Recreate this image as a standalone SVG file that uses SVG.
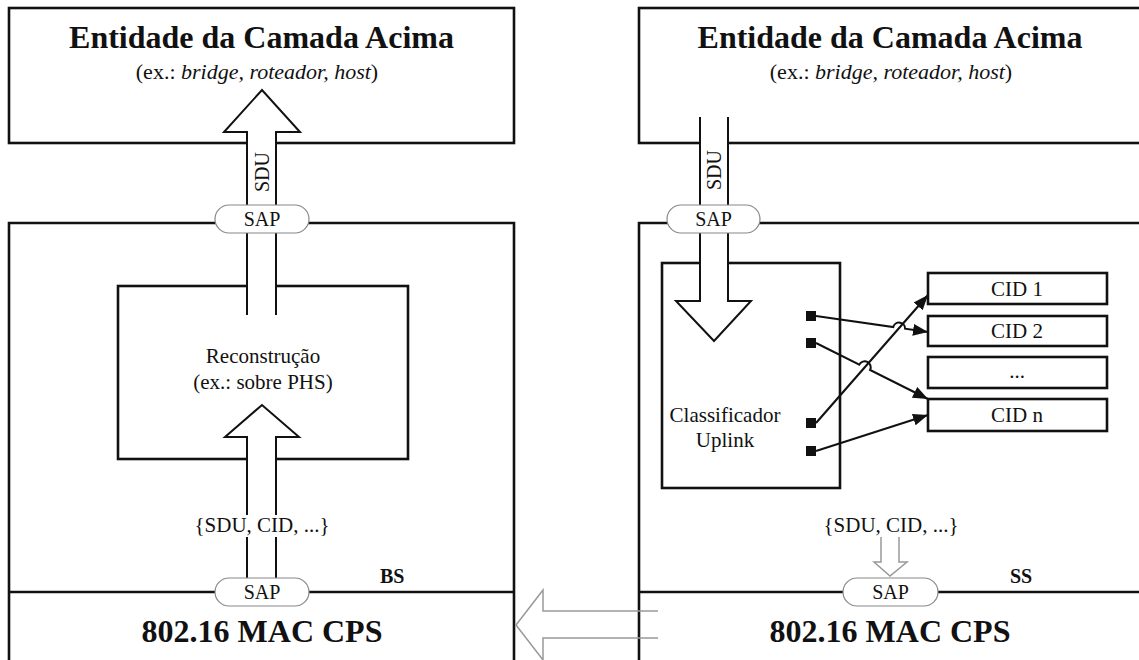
<svg xmlns="http://www.w3.org/2000/svg" width="1139" height="660" viewBox="0 0 1139 660">
<style>
text{font-family:"Liberation Serif","Times New Roman",serif;fill:#111}
.box{fill:none;stroke:#111;stroke-width:2.6}
.ln{fill:none;stroke:#111;stroke-width:2.6}
.sh{fill:none;stroke:#111;stroke-width:2}
.wh{fill:#fff;stroke:none}
.pill{fill:#fff;stroke:#888;stroke-width:1.2}
.gray{fill:none;stroke:#999;stroke-width:1.5}
.title{font-size:32px;font-weight:bold;text-anchor:middle}
.sub{font-size:21px;text-anchor:middle}
.ex{font-size:22px;text-anchor:middle}
.lbl{font-size:20px;text-anchor:middle}
.tag{font-size:20px;font-weight:bold}
.wire{fill:none;stroke:#111;stroke-width:2;marker-end:url(#ah)}
</style>
<defs>
<marker id="ah" markerUnits="userSpaceOnUse" markerWidth="16" markerHeight="12" refX="15" refY="6" orient="auto">
<path d="M0,0 L15,6 L0,12 z" fill="#111"/>
</marker>
</defs>
<rect width="1139" height="660" fill="#fff"/>

<g id="bs-upper">
<rect class="box" x="9" y="8" width="505" height="135"/>
<text class="title" x="261.5" y="48">Entidade da Camada Acima</text>
<text class="ex" x="257" y="79">(ex.: <tspan font-style="italic">bridge, roteador, host</tspan>)</text>
</g>
<g id="ss-upper">
<rect class="box" x="639" y="8" width="510" height="135"/>
<text class="title" x="890" y="48">Entidade da Camada Acima</text>
<text class="ex" x="891" y="79">(ex.: <tspan font-style="italic">bridge, roteador, host</tspan>)</text>
</g>

<g id="bs">
<path class="ln" d="M9,670 V223 H514 V670 M9,592 H514"/>
<text class="tag" x="380" y="583">BS</text>
<text class="title" x="262" y="642">802.16 MAC CPS</text>
</g>
<g id="ss">
<path class="ln" d="M639,670 V223 H1149 M639,592 H1149"/>
<text class="tag" x="1010" y="583">SS</text>
<text class="title" x="890" y="642">802.16 MAC CPS</text>
</g>

<g id="reconstrucao">
<rect class="box" x="118" y="286" width="290" height="173"/>
<text class="sub" x="263" y="363">Reconstrução</text>
<text class="sub" x="263" y="389">(ex.: sobre PHS)</text>
</g>

<g id="classificador">
<rect class="box" x="662" y="263" width="178" height="225"/>
<text class="sub" x="725" y="422">Classificador</text>
<text class="sub" x="725" y="447">Uplink</text>
<rect x="806" y="311" width="10" height="10" fill="#111"/>
<rect x="806" y="338" width="10" height="10" fill="#111"/>
<rect x="806" y="418" width="10" height="10" fill="#111"/>
<rect x="806" y="446" width="10" height="10" fill="#111"/>
</g>

<g id="cid1"><rect class="box" x="928" y="273" width="179" height="31"/><text class="sub" x="1017" y="296">CID 1</text></g>
<g id="cid2"><rect class="box" x="928" y="316" width="179" height="30"/><text class="sub" x="1017" y="338">CID 2</text></g>
<g id="cid-dots"><rect class="box" x="928" y="357" width="179" height="31"/><text class="sub" x="1017" y="378">...</text></g>
<g id="cidn"><rect class="box" x="928" y="399" width="179" height="32"/><text class="sub" x="1017" y="422">CID n</text></g>

<g id="connectors">
<rect class="wh" x="248" y="132" width="27" height="73"/>
<path class="sh" d="M247,205 V132 H224 L262,90 L300,132 H276 V205"/>
<text class="lbl" font-size="19" transform="translate(269,172) rotate(-90)">SDU</text>
<rect class="wh" x="248" y="233" width="27" height="82"/>
<path class="sh" d="M247,233 V315 M276,233 V315"/>
<rect class="wh" x="248" y="437" width="27" height="141"/>
<path class="sh" d="M247,515 V437 H225 L262,405 L299,437 H276 V515 M247,537 V578 M276,537 V578"/>
<text class="sub" x="262" y="532">{SDU, CID, ...}</text>

<rect class="wh" x="701" y="117" width="26" height="88"/>
<path class="sh" d="M700,117 V205 M728,117 V205"/>
<text class="lbl" font-size="19" transform="translate(721,170) rotate(-90)">SDU</text>
<rect class="wh" x="701" y="233" width="26" height="68"/>
<path class="sh" d="M700,233 V301 H676 L714,341 L751,301 H728 V233"/>

<text class="sub" x="891" y="532">{SDU, CID, ...}</text>
<path class="gray" d="M881,537 V562 H874 L890,576 L907,562 H899 V537"/>

<path class="wire" d="M816,316 L893.3,327.05 A6,6 0 0 1 905.1,328.75 L928,332"/>
<path class="wire" d="M816,343 L859.3,364.6 A6,6 0 0 1 870.1,370 L928,399"/>
<path class="wire" d="M816,423 L928,295"/>
<path class="wire" d="M816,451 L928,415"/>

<path class="gray" d="M658,611 H543 V590 L516,625 L543,660 V638 H658"/>
</g>

<g id="sap-bs-up"><rect class="pill" x="215" y="205" width="94" height="28" rx="14"/><text class="lbl" x="262" y="226">SAP</text></g>
<g id="sap-bs-down"><rect class="pill" x="215" y="578" width="94" height="28" rx="14"/><text class="lbl" x="262" y="599">SAP</text></g>
<g id="sap-ss-up"><rect class="pill" x="667" y="205" width="93" height="28" rx="14"/><text class="lbl" x="713.5" y="226">SAP</text></g>
<g id="sap-ss-down"><rect class="pill" x="843" y="578" width="95" height="28" rx="14"/><text class="lbl" x="890.5" y="599">SAP</text></g>
</svg>
